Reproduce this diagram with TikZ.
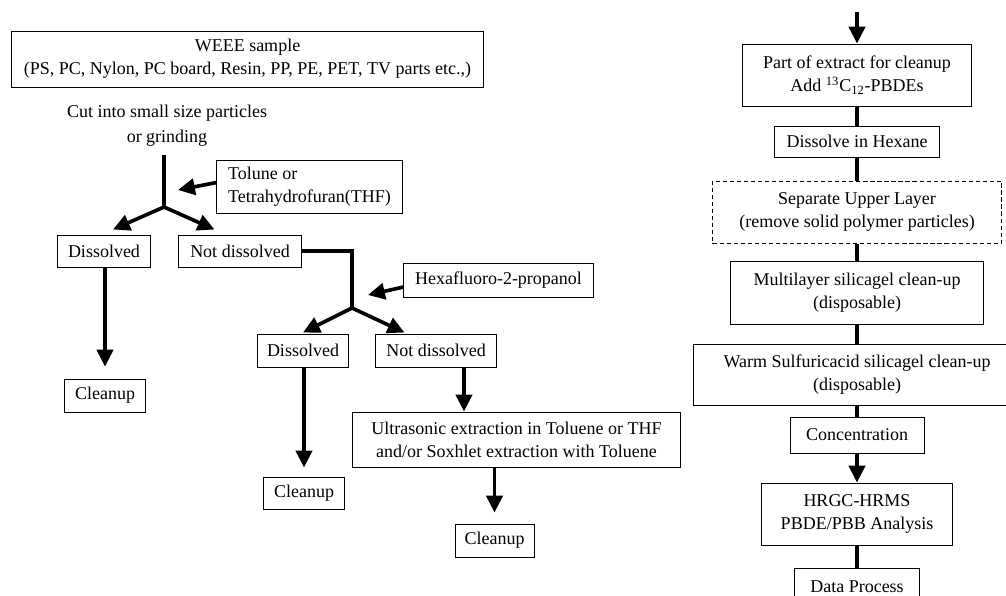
\documentclass[tikz,border=0pt]{standalone}
\usepackage{fontspec}
\setmainfont{Liberation Serif}
\usetikzlibrary{arrows.meta,positioning,calc}

\begin{document}
\begin{tikzpicture}[
    x=0.025cm, y=-0.025cm,
    box/.style={rectangle, draw, line width=0.7pt, inner sep=0pt, align=center, font=\fontsize{12.8}{16.4}\selectfont},
    dbox/.style={box, dash pattern=on 3pt off 2pt},
    lbl/.style={align=center, inner sep=0pt, font=\fontsize{12.8}{17.6}\selectfont},
    arrow/.style={-{Triangle[length=12pt, width=11.5pt]}, line width=2.6pt},
    link/.style={line width=2.2pt}
  ]
    \useasboundingbox (0,0) rectangle (1006,595);

    % Sample preparation (left)
    \node[box, minimum width=11.78cm, minimum height=1.4cm] (weee) at (247.5,59) {WEEE sample\\(PS, PC, Nylon, PC board, Resin, PP, PE, PET, TV parts etc.,)};
    \node[lbl] (cut) at (167,126) {Cut into small size particles\\or grinding};
    \coordinate (j1) at (164,207);
    \coordinate (j1top) at ($(cut.south)+(0,8)$);
    \node[box, minimum width=4.625cm, minimum height=1.325cm, align=left] (tol) at (309.5,186.5) {Tolune or\\Tetrahydrofuran(THF)};
    \coordinate (tolin) at (178,190);
    \node[box, minimum width=2.325cm, minimum height=0.8cm] (dis1) at (104,251) {Dissolved};
    \node[box, minimum width=3.05cm, minimum height=0.8cm] (nd1) at (240,251) {Not dissolved};
    \node[box, minimum width=2cm, minimum height=0.825cm] (cl1) at (105,395.5) {Cleanup};

    \coordinate (j2) at (352,308);
    \node[box, minimum width=4.725cm, minimum height=0.85cm] (hex) at (498.5,280) {Hexafluoro-2-propanol};
    \coordinate (hexin) at (368,295);
    \node[box, minimum width=2.25cm, minimum height=0.825cm] (dis2) at (303,350.5) {Dissolved};
    \node[box, minimum width=3cm, minimum height=0.825cm] (nd2) at (436,350.5) {Not dissolved};
    \node[box, minimum width=2.025cm, minimum height=0.8cm] (cl2) at (304,493) {Cleanup};
    \node[box, minimum width=8.175cm, minimum height=1.375cm] (ult) at (516.5,439.5) {Ultrasonic extraction in Toluene or THF\\and/or Soxhlet extraction with Toluene};
    \node[box, minimum width=1.975cm, minimum height=0.825cm] (cl3) at (494.5,540.5) {Cleanup};

    % Connectors (left)
    \draw[link] (j1top -| j1) -- (j1);
    \draw[arrow] (j1) -- ($(dis1.north)+(9,-5)$);
    \draw[arrow] (j1) -- ($(nd1.north west)+(36,-5)$);
    \draw[arrow] ($(tol.west)+(0,-4)$) -- (tolin);
    \draw[arrow, shorten >=8.5pt] (dis1.south -| cl1.north) -- (cl1.north);
    \draw[link] (nd1.east) -| (j2);
    \draw[arrow] (j2) -- ($(dis2.north)+(0,-1)$);
    \draw[arrow] (j2) -- ($(nd2.north west)+(29,-1)$);
    \draw[arrow] ($(hex.west)+(0,7)$) -- (hexin);
    \draw[arrow, shorten >=6.4pt] (dis2.south -| cl2.north) -- (cl2.north);
    \coordinate (a2) at ($(nd2.south)+(28,0)$);
    \draw[arrow] (a2) -- (a2 |- ult.north);
    \draw[arrow, shorten >=7.8pt] (ult.south -| cl3.north) -- (cl3.north);

    % Cleanup and analysis (right)
    \node[box, minimum width=5.7cm, minimum height=1.55cm] (part) at (857,75) {Part of extract for cleanup\\Add \textsuperscript{13}C\textsubscript{12}-PBDEs};
    \node[box, minimum width=4.125cm, minimum height=0.775cm, below=0.475cm of part] (diss) {Dissolve in Hexane};
    \node[dbox, minimum width=7.225cm, minimum height=1.55cm, below=0.575cm of diss] (sep) {Separate Upper Layer\\(remove solid polymer particles)};
    \node[box, minimum width=6.3cm, minimum height=1.575cm, below=0.425cm of sep] (multi) {Multilayer silicagel clean-up\\(disposable)};
    \node[box, minimum width=8.15cm, minimum height=1.525cm, below=0.475cm of multi] (warm) {Warm Sulfuricacid silicagel clean-up\\(disposable)};
    \node[box, minimum width=3.35cm, minimum height=0.9cm, below=0.275cm of warm] (conc) {Concentration};
    \node[box, minimum width=4.775cm, minimum height=1.55cm, below=0.725cm of conc] (hrgc) {HRGC-HRMS\\PBDE/PBB Analysis};
    \node[box, minimum width=3.125cm, minimum height=0.925cm, below=0.55cm of hrgc] (data) {Data Process};
    \coordinate (in) at (857,12);

    \draw[arrow] (in) -- (part);
    \draw[link] (part) -- (diss);
    \draw[link] (diss) -- (sep);
    \draw[link] (sep) -- (multi);
    \draw[link] (multi) -- (warm);
    \draw[link] (warm) -- (conc);
    \draw[arrow] (conc) -- (hrgc);
    \draw[link] (hrgc) -- (data);
\end{tikzpicture}
\end{document}
